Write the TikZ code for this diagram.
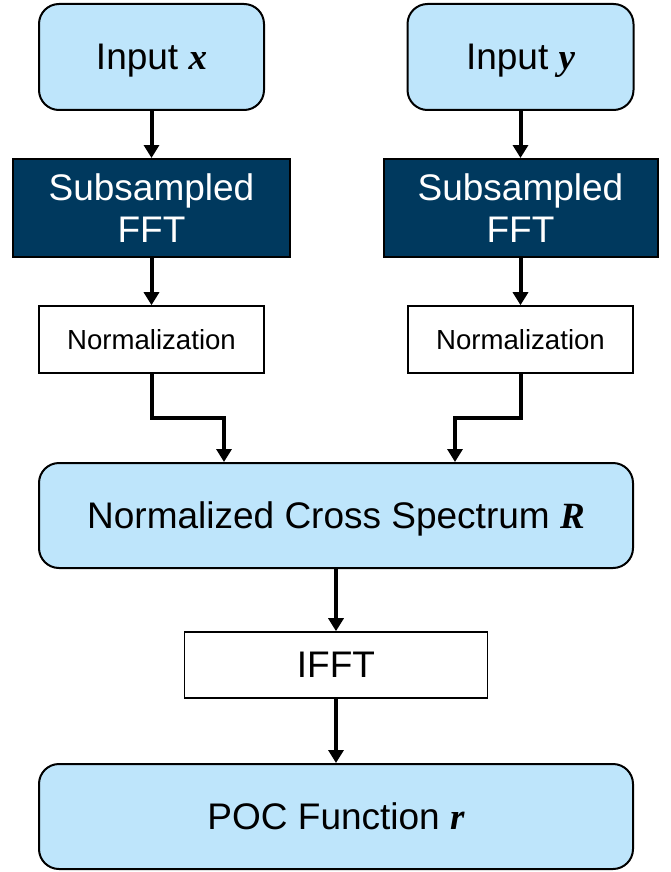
\documentclass[tikz,border=0pt]{standalone}
\usepackage{fontspec}
\setmainfont{Liberation Sans}
\newfontfamily\varfont{Liberation Serif}
\usetikzlibrary{arrows.meta}
\definecolor{boxblue}{RGB}{190,229,251}
\definecolor{navy}{RGB}{0,57,94}
% bold italic serif letters for the variables
\newcommand{\var}[1]{{\varfont\bfseries\itshape #1}}
\tikzset{
  roundbox/.style={draw=black, line width=2pt, fill=boxblue, rounded corners=20pt,
    font=\fontsize{37}{42}\selectfont, align=center, inner sep=0pt, text depth=0pt},
  darkbox/.style={draw=black, line width=2pt, fill=navy, text=white,
    font=\fontsize{37}{42}\selectfont, align=center, inner sep=0pt},
  plainbox/.style={draw=black, line width=1.6pt, fill=white, align=center, inner sep=0pt, text depth=0pt},
  arr/.style={line width=4pt, -{Triangle[width=15pt,length=13pt]}}
}
\begin{document}
\begin{tikzpicture}[x=1pt,y=-1pt]
\useasboundingbox (0,0) rectangle (670,872);

% input blocks
\node[roundbox, minimum width=225pt, minimum height=106pt] (inx) at (151.5,57) {Input \var{x}};
\node[roundbox, minimum width=226pt, minimum height=106pt] (iny) at (520.5,57) {Input \var{y}};

% subsampled FFT blocks
\node[darkbox, minimum width=277pt, minimum height=98pt] (fftx) at (151.5,208) {Subsampled\\FFT};
\node[darkbox, minimum width=274pt, minimum height=98pt] (ffty) at (520.5,208) {Subsampled\\FFT};

% normalization blocks
\node[plainbox, font=\fontsize{27.6}{32}\selectfont, minimum width=225pt, minimum height=67pt] (normx) at (151.5,339.5) {Normalization};
\node[plainbox, font=\fontsize{27.6}{32}\selectfont, minimum width=225pt, minimum height=67pt] (normy) at (520.5,339.5) {Normalization};

% cross spectrum, inverse FFT, output
\node[roundbox, minimum width=594pt, minimum height=105pt] (ncs) at (336,515.5) {Normalized Cross Spectrum \var{R}};
\node[plainbox, font=\fontsize{37}{42}\selectfont, minimum width=303pt, minimum height=66pt] (ifft) at (336,665) {IFFT};
\node[roundbox, minimum width=594pt, minimum height=105pt] (poc) at (336,816.5) {POC Function \var{r}};

% connectors
\draw[arr] (inx) -- (fftx);
\draw[arr] (iny) -- (ffty);
\draw[arr] (fftx) -- (normx);
\draw[arr] (ffty) -- (normy);

\coordinate (kx) at (224,418);
\coordinate (ky) at (455,418);
\draw[arr] (normx.south) |- (kx) -- (kx |- ncs.north);
\draw[arr] (normy.south) |- (ky) -- (ky |- ncs.north);

\draw[arr] (ncs) -- (ifft);
\draw[arr] (ifft) -- (poc);
\end{tikzpicture}
\end{document}
